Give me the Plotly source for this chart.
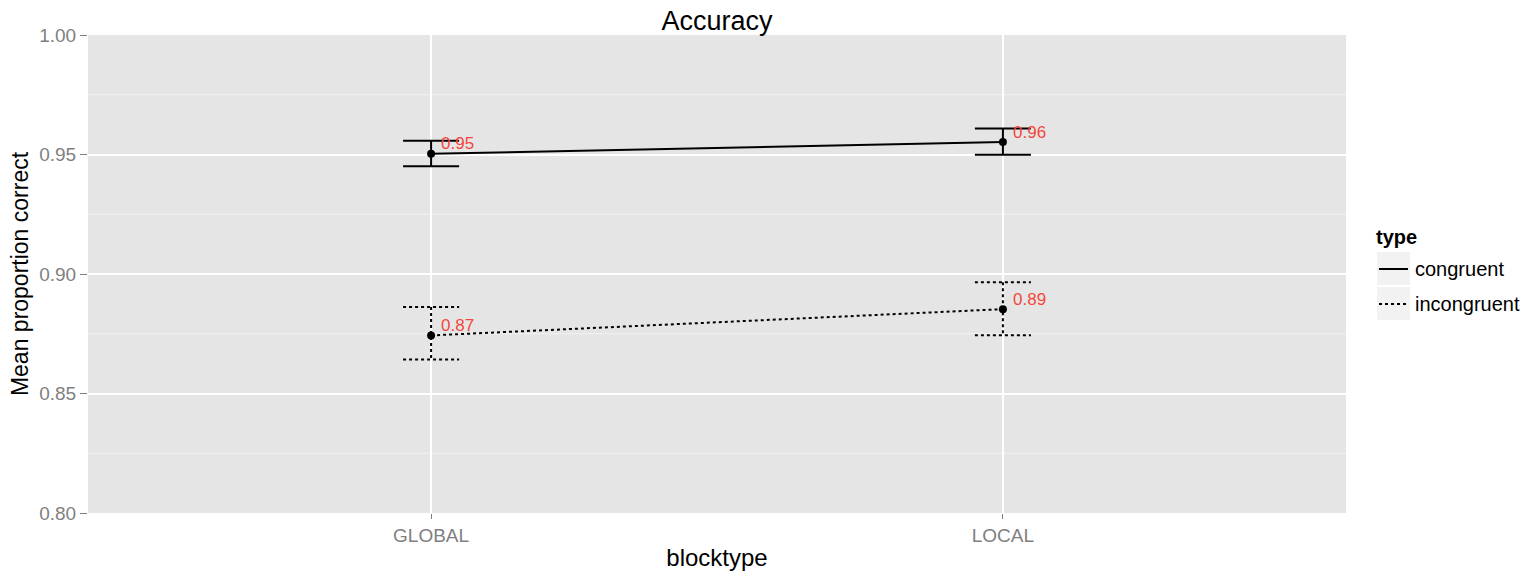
import plotly.graph_objects as go

# Mean proportion correct per block type, with standard-error bounds
blocktypes = ["GLOBAL", "LOCAL"]
types = ["congruent", "incongruent"]
means = {
    "congruent": [0.9503, 0.9552],
    "incongruent": [0.8743, 0.8853],
}
upper = {
    "congruent": [0.9558, 0.9609],
    "incongruent": [0.8862, 0.8966],
}
lower = {
    "congruent": [0.9451, 0.9499],
    "incongruent": [0.8642, 0.8744],
}
dashes = {"congruent": "solid", "incongruent": "3px,3px"}
y_ticks = [0.80, 0.85, 0.90, 0.95, 1.00]
y_minor = [0.825, 0.875, 0.925, 0.975]

FONT = "Liberation Sans, Arial, sans-serif"
GREY = "#7F7F7F"
LABEL_RED = "#F4473C"
CAP = 0.049  # half-width of error bar caps, in category units
xpos = list(range(len(blocktypes)))

fig = go.Figure()

for t in types:
    # error bars: vertical stem plus top/bottom caps
    ex, ey = [], []
    for i, (lo, hi) in enumerate(zip(lower[t], upper[t])):
        ex += [i - CAP, i + CAP, None, i, i, None, i - CAP, i + CAP, None]
        ey += [hi, hi, None, hi, lo, None, lo, lo, None]
    fig.add_trace(go.Scatter(
        x=ex, y=ey, mode="lines", showlegend=False, hoverinfo="skip",
        line=dict(color="black", width=2, dash=dashes[t]),
    ))
    # connecting line
    fig.add_trace(go.Scatter(
        x=xpos, y=means[t], mode="lines", name=t, showlegend=False,
        line=dict(color="black", width=2, dash=dashes[t]),
    ))
    # mean points
    fig.add_trace(go.Scatter(
        x=xpos, y=means[t], mode="markers", showlegend=False,
        marker=dict(color="black", size=8),
    ))
    # value labels next to each point
    for i, v in enumerate(means[t]):
        fig.add_annotation(
            x=i, y=v, text=f"{v:.2f}", showarrow=False,
            xanchor="left", yanchor="middle", xshift=8, yshift=10,
            font=dict(color=LABEL_RED, size=17, family=FONT),
        )

# lighter minor grid lines
for v in y_minor:
    fig.add_shape(type="line", xref="paper", yref="y", x0=0, x1=1, y0=v, y1=v,
                  line=dict(color="#F2F2F2", width=1), layer="below")

# legend: title, grey key boxes, line samples and labels
PW, PH, PL, PB = 1258, 478, 88, 513   # plot area in pixels


def px_x(p):
    return (p - PL) / PW


def px_y(p):
    return (PB - p) / PH


fig.add_annotation(
    xref="paper", yref="paper", x=px_x(1374), y=px_y(237), text="<b>type</b>",
    showarrow=False, xanchor="left", yanchor="middle",
    font=dict(size=20, color="black", family=FONT),
)
key_tops = [252, 287]
for k, t in enumerate(types):
    top = key_tops[k]
    mid = top + 17
    fig.add_shape(type="rect", xref="paper", yref="paper",
                  x0=px_x(1377), x1=px_x(1410), y0=px_y(top), y1=px_y(top + 33),
                  fillcolor="#F2F2F2", line=dict(width=0))
    fig.add_shape(type="line", xref="paper", yref="paper",
                  x0=px_x(1379), x1=px_x(1408), y0=px_y(mid), y1=px_y(mid),
                  line=dict(color="black", width=2, dash=dashes[t]))
    fig.add_annotation(
        xref="paper", yref="paper", x=px_x(1413), y=px_y(mid), text=t,
        showarrow=False, xanchor="left", yanchor="middle",
        font=dict(size=20, color="black", family=FONT),
    )

fig.update_layout(
    width=1540, height=578,
    margin=dict(l=PL, r=1540 - PL - PW, t=35, b=578 - PB),
    paper_bgcolor="white",
    plot_bgcolor="#E5E5E5",
    showlegend=False,
    font=dict(family=FONT, color="black"),
    title=dict(text="Accuracy", x=0.5, xref="paper", xanchor="center",
               y=1 - 21 / 578, yanchor="middle",
               font=dict(size=27, color="black")),
    xaxis=dict(
        range=[-0.6, 1.6], tickvals=xpos, ticktext=blocktypes,
        showgrid=True, gridcolor="white", gridwidth=2, zeroline=False,
        ticks="outside", ticklen=5, tickcolor=GREY, tickwidth=1,
        tickfont=dict(size=19, color=GREY), automargin=False,
        title=dict(text="blocktype", font=dict(size=24, color="black"), standoff=4),
    ),
    yaxis=dict(
        range=[0.8, 1.0], tickvals=y_ticks, tickformat=".2f",
        showgrid=True, gridcolor="white", gridwidth=2, zeroline=False,
        ticks="outside", ticklen=7, tickcolor=GREY, tickwidth=1,
        tickfont=dict(size=19, color=GREY), automargin=False,
        title=dict(text="Mean proportion correct", font=dict(size=23, color="black"), standoff=4),
    ),
)

fig.write_html("out.html")
